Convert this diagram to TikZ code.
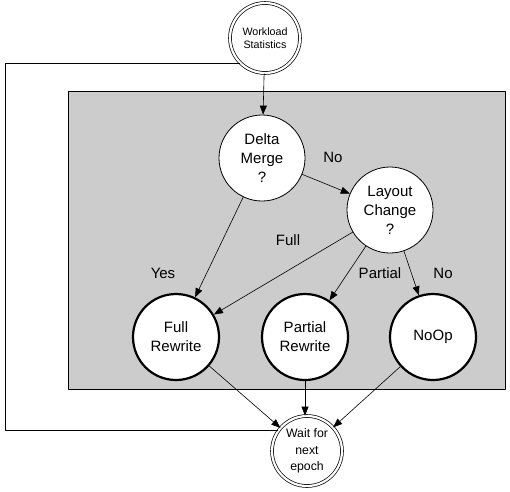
\documentclass[tikz,border=0pt]{standalone}
\usepackage{fontspec}
\setmainfont{Liberation Sans}
\usetikzlibrary{arrows.meta}
\begin{document}
\begin{tikzpicture}[x=1pt, y=-1pt, line join=round, >={Triangle[length=9pt,width=7pt]},
    test/.style={circle, draw, fill=white, line width=0.8pt, minimum size=86pt, inner sep=0pt,
      align=center, font=\fontsize{15}{19}\selectfont},
    action/.style={test, line width=2.2pt},
    event/.style={circle, draw, fill=white, double, double distance=2.2pt, line width=0.7pt,
      minimum size=70pt, inner sep=0pt, align=center, font=\fontsize{10.7}{13.5}\selectfont},
    lbl/.style={font=\fontsize{15}{18}\selectfont},
    flow/.style={->, line width=0.6pt}]
  \useasboundingbox (0,0) rectangle (510,491);
  % shaded area for one epoch
  \draw[fill=gray!40, line width=0.8pt] (68,91) rectangle (505,389);
  % states
  \node[event] (stats) at (265,38) {Workload\\Statistics};
  \node[event, font=\fontsize{12.3}{16.5}\selectfont] (wait) at (307,451) {Wait for\\next\\epoch};
  \node[test] (merge) at (262,158) {Delta\\Merge\\?};
  \node[test] (layout) at (390,210) {Layout\\Change\\?};
  \node[action] (full) at (176,337) {Full\\Rewrite};
  \node[action] (partial) at (305,337) {Partial\\Rewrite};
  \node[action] (noop) at (433,337) {NoOp};
  % decisions
  \draw[flow] (stats) -- (merge);
  \draw[flow] (merge) -- (layout);
  \draw[flow] (merge) -- (full);
  \draw[flow] (layout) -- (full);
  \draw[flow] (layout) -- (partial);
  \draw[flow] (layout) -- (noop);
  \draw[flow] (full) -- (wait);
  \draw[flow] (partial) -- (wait.north -| partial);
  \draw[flow] (noop) -- (wait);
  % back to the start
  \coordinate (corner) at (5,64);
  \draw[line width=0.8pt] (stats.south west) -- (stats.south west -| corner) |- (wait.145);
  % edge labels
  \node[lbl] (no1) at (333,157) {No};
  \node[lbl] (full1) at (288,240) {Full};
  \node[lbl] (yes) at (163,273) {Yes};
  \node[lbl] (part1) at (380,273) {Partial};
  \node[lbl] (no2) at (443,273) {No};
\end{tikzpicture}
\end{document}
